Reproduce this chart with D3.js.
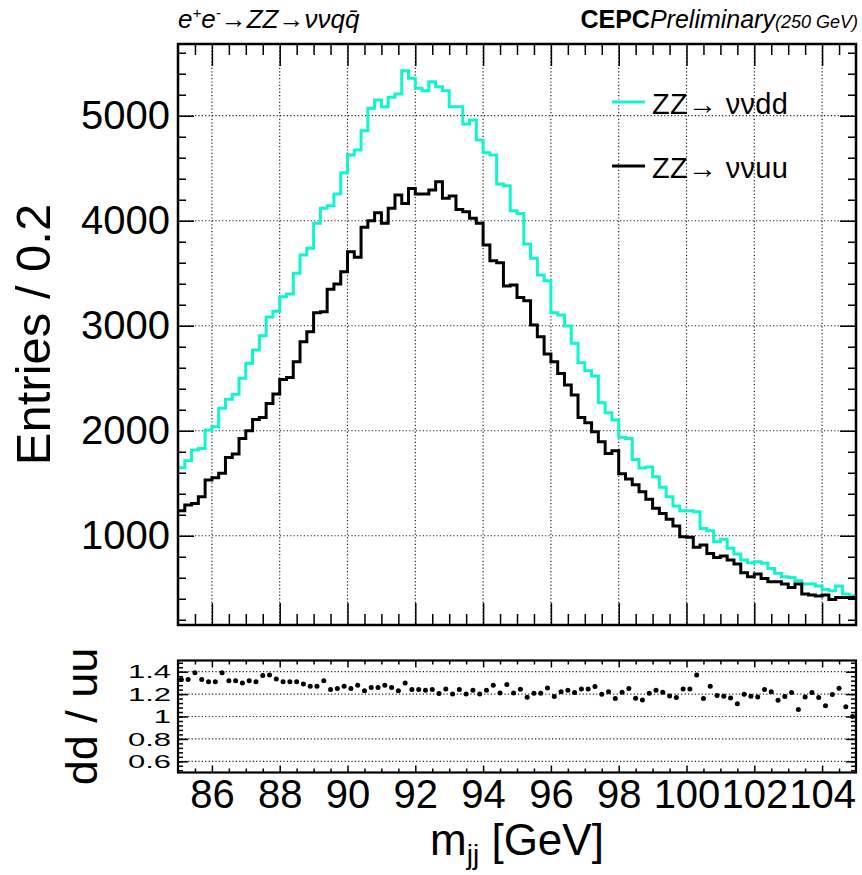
<!DOCTYPE html>
<html>
<head>
<meta charset="utf-8">
<script src="https://cdn.jsdelivr.net/npm/d3@7"></script>
<style>
body { margin: 0; background: #fff; }
svg { font-family: "Liberation Sans", Arial, Helvetica, sans-serif; }
</style>
</head>
<body>
<script>
// histogram binning: 100 bins of 0.2 GeV from 85 to 105
const binLow = 85;
const binWidth = 0.2;

const ddCounts = [
	1648, 1714, 1816, 1832, 2006, 2038, 2213, 2299, 2347, 2499,
	2642, 2769, 2905, 3083, 3138, 3276, 3302, 3499, 3673, 3737,
	3975, 4118, 4143, 4254, 4457, 4626, 4673, 4857, 5070, 5149,
	5086, 5175, 5206, 5429, 5356, 5261, 5238, 5324, 5276, 5238,
	5086, 5086, 4921, 4959, 4769, 4648, 4626, 4350, 4333, 4095,
	4070, 3778, 3642, 3483, 3429, 3124, 3102, 2997, 2832, 2648,
	2571, 2521, 2267, 2171, 2102, 1937, 1927, 1727, 1645, 1655,
	1562, 1461, 1371, 1283, 1238, 1238, 1228, 1070, 1048, 943,
	966, 880, 826, 769, 743, 752, 737, 689, 642, 610,
	603, 571, 540, 540, 521, 489, 476, 521, 445, 426
];

const uuCounts = [
	1238, 1292, 1308, 1371, 1530, 1552, 1594, 1746, 1778, 1927,
	2000, 2108, 2127, 2260, 2349, 2489, 2508, 2657, 2848, 2943,
	3124, 3133, 3347, 3397, 3514, 3705, 3651, 3937, 4000, 4076,
	3975, 4118, 4245, 4165, 4308, 4254, 4254, 4292, 4371, 4213,
	4235, 4108, 4086, 4023, 3975, 3769, 3619, 3600, 3378, 3388,
	3270, 3238, 3007, 2895, 2730, 2657, 2546, 2435, 2340, 2127,
	2076, 1990, 1895, 1784, 1810, 1590, 1540, 1485, 1419, 1347,
	1261, 1213, 1156, 1092, 990, 985, 890, 911, 832, 794,
	807, 769, 730, 648, 610, 635, 594, 562, 562, 540,
	508, 540, 445, 435, 426, 435, 394, 413, 413, 413
];

// dd / uu points as drawn in the lower pad
const ratio = [
	1.33, 1.33, 1.39, 1.33, 1.31, 1.31, 1.39, 1.32, 1.32, 1.30,
	1.32, 1.31, 1.365, 1.37, 1.335, 1.31, 1.31, 1.31, 1.29, 1.27,
	1.27, 1.32, 1.24, 1.25, 1.27, 1.25, 1.28, 1.23, 1.26, 1.26,
	1.28, 1.26, 1.23, 1.30, 1.24, 1.24, 1.235, 1.24, 1.205, 1.245,
	1.20, 1.24, 1.20, 1.235, 1.20, 1.235, 1.28, 1.21, 1.285, 1.21,
	1.243, 1.172, 1.208, 1.208, 1.255, 1.178, 1.22, 1.234, 1.214, 1.246,
	1.246, 1.267, 1.199, 1.22, 1.16, 1.217, 1.249, 1.163, 1.148, 1.208,
	1.234, 1.217, 1.184, 1.169, 1.246, 1.246, 1.371, 1.16, 1.27, 1.187,
	1.181, 1.166, 1.113, 1.199, 1.181, 1.175, 1.24, 1.22, 1.146, 1.178,
	1.214, 1.062, 1.175, 1.214, 1.169, 1.095, 1.196, 1.252, 1.086, 1.0
];

const xTicks = [86, 88, 90, 92, 94, 96, 98, 100, 102, 104];
const mainYTicks = [1000, 2000, 3000, 4000, 5000];
const ratioYTicks = [0.6, 0.8, 1, 1.2, 1.4];

const legendLabels = ["ZZ\u2192 \u03bd\u03bddd", "ZZ\u2192 \u03bd\u03bduu"];
const cyan = "#10f5cf";

const w = 862, h = 875;
const left = 178, right = 856;
const mainTop = 44, mainBottom = 625;
const ratioTop = 660.5, ratioBottom = 772.5;

const svg = d3.select("body").append("svg")
	.attr("width", w)
	.attr("height", h);

const x = d3.scaleLinear().domain([85, 105]).range([left, right]);
const yMain = d3.scaleLinear().domain([150, 5683]).range([mainBottom, mainTop]);
const yRatio = d3.scaleLinear().domain([0.5, 1.5]).range([ratioBottom, ratioTop]);

const minorX = d3.range(0, 41).map(i => 85 + i * 0.5).filter(v => v % 2 !== 0 && v > 85 && v < 105);
const minorYMain = d3.range(1, 29).map(i => i * 200).filter(v => v % 1000 !== 0 && v > 150);
const minorYRatio = d3.range(13, 38).map(i => +(i * 0.04).toFixed(2)).filter(v => v > 0.5 && v < 1.5);

function clean(g) {
	g.select(".domain").remove();
	g.selectAll("line").attr("stroke", "#000").attr("stroke-width", 1.5);
}

function tickSet(g, axisFn, scale, values, size) {
	g.call(axisFn(scale).tickValues(values).tickSize(-size).tickFormat(""));
	clean(g);
}

// ---------- main pad ----------
const grid = svg.append("g")
	.attr("stroke", "#222")
	.attr("stroke-width", 1.2)
	.attr("stroke-dasharray", "1.2,2.2");
grid.selectAll(".gx").data(xTicks).enter().append("line")
	.attr("x1", d => x(d)).attr("x2", d => x(d))
	.attr("y1", mainTop).attr("y2", mainBottom);
grid.selectAll(".gy").data(mainYTicks).enter().append("line")
	.attr("x1", left).attr("x2", right)
	.attr("y1", d => yMain(d)).attr("y2", d => yMain(d));

svg.append("clipPath").attr("id", "clipMain")
	.append("rect")
	.attr("x", left).attr("y", mainTop)
	.attr("width", right - left).attr("height", mainBottom - mainTop);

function steps(counts) {
	const pts = counts.map((v, i) => ({ x: binLow + i * binWidth, v: v }));
	pts.push({ x: binLow + counts.length * binWidth, v: counts[counts.length - 1] });
	return pts;
}

const histLine = d3.line()
	.x(d => x(d.x))
	.y(d => yMain(d.v))
	.curve(d3.curveStepAfter);

const hists = svg.append("g").attr("clip-path", "url(#clipMain)");
hists.append("path")
	.attr("d", histLine(steps(ddCounts)))
	.attr("fill", "none")
	.attr("stroke", cyan)
	.attr("stroke-width", 3);
hists.append("path")
	.attr("d", histLine(steps(uuCounts)))
	.attr("fill", "none")
	.attr("stroke", "#000")
	.attr("stroke-width", 3);

tickSet(svg.append("g").attr("transform", `translate(0,${mainBottom})`), d3.axisBottom, x, xTicks, 22);
tickSet(svg.append("g").attr("transform", `translate(0,${mainBottom})`), d3.axisBottom, x, minorX, 11);
tickSet(svg.append("g").attr("transform", `translate(0,${mainTop})`), d3.axisTop, x, xTicks, 22);
tickSet(svg.append("g").attr("transform", `translate(0,${mainTop})`), d3.axisTop, x, minorX, 11);
tickSet(svg.append("g").attr("transform", `translate(${right},0)`), d3.axisRight, yMain, mainYTicks, 16);
tickSet(svg.append("g").attr("transform", `translate(${right},0)`), d3.axisRight, yMain, minorYMain, 8);
tickSet(svg.append("g").attr("transform", `translate(${left},0)`), d3.axisLeft, yMain, minorYMain, 8);

const yAxisMain = svg.append("g")
	.attr("transform", `translate(${left},0)`)
	.call(d3.axisLeft(yMain).tickValues(mainYTicks).tickSize(-16).tickPadding(8).tickFormat(d3.format("d")));
clean(yAxisMain);
yAxisMain.selectAll("text")
	.attr("font-size", 40)
	.attr("font-family", "Liberation Sans, Arial, sans-serif")
	.attr("fill", "#000");

svg.append("rect")
	.attr("x", left).attr("y", mainTop)
	.attr("width", right - left).attr("height", mainBottom - mainTop)
	.attr("fill", "none").attr("stroke", "#000").attr("stroke-width", 2.5);

svg.append("text")
	.attr("transform", `translate(50,${(mainTop + mainBottom) / 2}) rotate(-90)`)
	.attr("text-anchor", "middle")
	.attr("font-size", 49)
	.text("Entries / 0.2");

// legend
const legend = svg.append("g").attr("transform", "translate(612,102)");
[cyan, "#000"].forEach((c, i) => {
	const row = legend.append("g").attr("transform", `translate(0,${i * 64})`);
	row.append("line").attr("x1", 0).attr("x2", 33).attr("y1", 0).attr("y2", 0)
		.attr("stroke", c).attr("stroke-width", 3);
	row.append("text").attr("x", 40).attr("y", 12)
		.attr("font-size", 29)
		.attr("letter-spacing", 0.3)
		.text(legendLabels[i]);
});

// header
const head = svg.append("text").attr("x", 178).attr("y", 28)
	.attr("font-size", 26).attr("font-style", "italic");
head.append("tspan").text("e");
head.append("tspan").attr("dy", -10).attr("font-size", 15).text("+");
head.append("tspan").attr("dy", 10).text("e");
head.append("tspan").attr("dy", -10).attr("font-size", 15).text("-");
head.append("tspan").attr("dy", 10).text("\u2192ZZ\u2192\u03bd\u03bdq");
head.append("tspan").text("q\u0304");

const cepc = svg.append("text").attr("x", 858).attr("y", 28)
	.attr("text-anchor", "end").attr("font-size", 25);
cepc.append("tspan").attr("font-weight", "bold").text("CEPC");
cepc.append("tspan").attr("font-style", "italic").text("Preliminary");
cepc.append("tspan").attr("font-style", "italic").attr("font-size", 18).text("(250 GeV)");

// ---------- ratio pad ----------
const rgrid = svg.append("g")
	.attr("stroke", "#222")
	.attr("stroke-width", 1.2)
	.attr("stroke-dasharray", "1.2,2.2");
rgrid.selectAll("line").data(ratioYTicks).enter().append("line")
	.attr("x1", left).attr("x2", right)
	.attr("y1", d => yRatio(d)).attr("y2", d => yRatio(d));

tickSet(svg.append("g").attr("transform", `translate(0,${ratioTop})`), d3.axisTop, x, xTicks, 7);
tickSet(svg.append("g").attr("transform", `translate(0,${ratioTop})`), d3.axisTop, x, minorX, 4);
tickSet(svg.append("g").attr("transform", `translate(0,${ratioBottom})`), d3.axisBottom, x, minorX, 4);
tickSet(svg.append("g").attr("transform", `translate(${right},0)`), d3.axisRight, yRatio, ratioYTicks, 10);
tickSet(svg.append("g").attr("transform", `translate(${right},0)`), d3.axisRight, yRatio, minorYRatio, 5);
tickSet(svg.append("g").attr("transform", `translate(${left},0)`), d3.axisLeft, yRatio, minorYRatio, 5);

const xAxisRatio = svg.append("g")
	.attr("transform", `translate(0,${ratioBottom})`)
	.call(d3.axisBottom(x).tickValues(xTicks).tickSize(-7).tickPadding(7).tickFormat(d3.format("d")));
clean(xAxisRatio);
xAxisRatio.selectAll("text")
	.attr("font-size", 40)
	.attr("font-family", "Liberation Sans, Arial, sans-serif")
	.attr("fill", "#000");

const yAxisRatio = svg.append("g")
	.attr("transform", `translate(${left},0)`)
	.call(d3.axisLeft(yRatio).tickValues(ratioYTicks).tickSize(-10).tickPadding(7).tickFormat(d => String(d)));
clean(yAxisRatio);
yAxisRatio.selectAll("text")
	.attr("font-size", 31)
	.attr("font-family", "Liberation Sans, Arial, sans-serif")
	.attr("fill", "#000")
	.attr("transform", "scale(1,0.62)");

svg.append("g").selectAll("circle").data(ratio).enter().append("circle")
	.attr("cx", (d, i) => x(binLow + (i + 0.5) * binWidth))
	.attr("cy", d => yRatio(d))
	.attr("r", 2.5)
	.attr("fill", "#000");

svg.append("rect")
	.attr("x", left).attr("y", ratioTop)
	.attr("width", right - left).attr("height", ratioBottom - ratioTop)
	.attr("fill", "none").attr("stroke", "#000").attr("stroke-width", 2.2);

svg.append("text")
	.attr("transform", `translate(97,${(ratioTop + ratioBottom) / 2}) rotate(-90)`)
	.attr("text-anchor", "middle")
	.attr("font-size", 45)
	.text("dd / uu");

const xt = svg.append("text").attr("x", (left + right) / 2).attr("y", 855)
	.attr("text-anchor", "middle").attr("font-size", 44);
xt.append("tspan").text("m");
xt.append("tspan").attr("dy", 9).attr("font-size", 28).text("jj");
xt.append("tspan").attr("dy", -9).text(" [GeV]");
</script>
</body>
</html>
